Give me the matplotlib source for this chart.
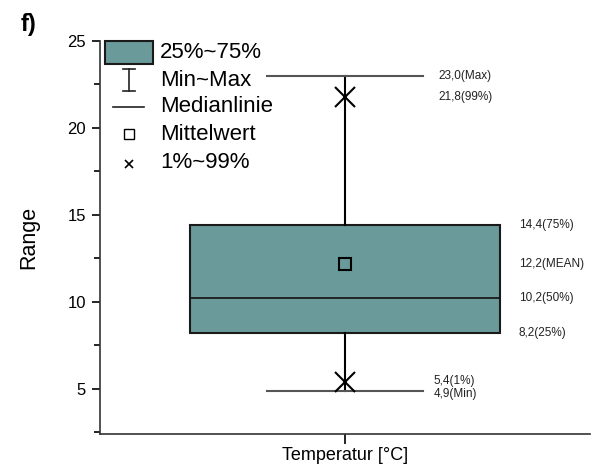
import matplotlib
matplotlib.use("Agg")
import matplotlib.pyplot as plt
from matplotlib.patches import Rectangle
from matplotlib.lines import Line2D

plt.rcParams['font.family'] = ['Liberation Sans', 'DejaVu Sans']

category = "Temperatur [°C]"
q1, median, q3 = 8.2, 10.2, 14.4
mean = 12.2
p1, p99 = 5.4, 21.8
vmin, vmax = 4.9, 23.0
annot_labels = ["23,0(Max)", "21,8(99%)", "14,4(75%)", "12,2(MEAN)",
                "10,2(50%)", "8,2(25%)", "5,4(1%)", "4,9(Min)"]
annot_values = [vmax, p99, q3, mean, median, q1, p1, vmin]
yticks = [5, 10, 15, 20, 25]

W, H = 597, 468
fig = plt.figure(figsize=(W / 100, H / 100), dpi=100)
ax = fig.add_axes([100 / W, 1 - 434 / H, 490 / W, 393 / H])

box_color = '#6a9a9a'
stats = [dict(med=median, q1=q1, q3=q3, whislo=vmin, whishi=vmax,
              mean=mean, fliers=[p1, p99], label=category)]
ax.bxp(stats, positions=[1], widths=1.265, capwidths=0.637,
       showmeans=True, patch_artist=True,
       boxprops=dict(facecolor=box_color, edgecolor='#1a1a1a', linewidth=1.5),
       medianprops=dict(color='#1a1a1a', linewidth=1.3),
       whiskerprops=dict(color='black', linewidth=1.5),
       capprops=dict(color='#555555', linewidth=1.5),
       meanprops=dict(marker='s', markerfacecolor='none', markeredgecolor='black',
                      markersize=8, markeredgewidth=1.5),
       flierprops=dict(marker='x', markeredgecolor='black', markersize=14,
                       markeredgewidth=1.5))

ax.set_xlim(0, 2)
ax.set_ylim(2.4, 25)
ax.set_yticks(yticks)
ax.set_yticks([2.5 + 5 * i for i in range(5)], minor=True)
ax.tick_params(axis='y', which='major', direction='out', length=6, width=1.2,
               labelsize=12, pad=4)
ax.tick_params(axis='y', which='minor', direction='out', length=4, width=1.2)
ax.tick_params(axis='x', direction='out', length=7, width=1.2, labelsize=13, pad=2)
for s in ['top', 'right']:
    ax.spines[s].set_visible(False)
for s in ['left', 'bottom']:
    ax.spines[s].set_linewidth(1.2)
    ax.spines[s].set_color('#333333')
ax.set_ylabel("Range", fontsize=15.5, labelpad=20)

# annotations
for lab, v in zip(annot_labels, annot_values):
    if lab in ("23,0(Max)", "21,8(99%)"):
        x = 1.38
    elif lab in ("5,4(1%)", "4,9(Min)"):
        x = 1.36
    else:
        x = 1.71
    va = 'center'
    if lab == "5,4(1%)":
        va = 'bottom'; v = v - 0.3
    if lab == "4,9(Min)":
        va = 'top'; v = v + 0.15
    ax.text(x, v, lab, fontsize=8.5, va=va, ha='left', color='#222222')

# legend (pixel helpers)
def fx(px):
    return px / W

def fy(py):
    return 1 - py / H

fig.patches.append(Rectangle((fx(105), fy(64)), fx(153) - fx(105), fy(41) - fy(64),
                             transform=fig.transFigure, facecolor=box_color,
                             edgecolor='#1a1a1a', linewidth=1.5))
for xs, ys in [([129, 129], [69, 91]), ([123, 135], [69, 69]), ([123, 135], [91, 91]),
               ([113, 144], [107, 107])]:
    fig.add_artist(Line2D([fx(v) for v in xs], [fy(v) for v in ys],
                          transform=fig.transFigure, color='#222222', linewidth=1.2))
fig.add_artist(Line2D([fx(129)], [fy(134)], transform=fig.transFigure, marker='s',
                      markersize=7, markerfacecolor='none', markeredgecolor='black',
                      markeredgewidth=1.0, linestyle='none'))
fig.add_artist(Line2D([fx(129)], [fy(164)], transform=fig.transFigure, marker='x',
                      markersize=6, markeredgecolor='black',
                      markeredgewidth=1.2, linestyle='none'))
leg_texts = ["25%~75%", "Min~Max", "Medianlinie", "Mittelwert", "1%~99%"]
leg_y = [52, 80, 107, 134, 162]
for t, y in zip(leg_texts, leg_y):
    fig.text(fx(160), fy(y), t, fontsize=16, va='center', ha='left')

fig.text(fx(21), fy(25), "f)", fontsize=17, fontweight='bold', va='center', ha='left')

fig.savefig("out.png", dpi=100)
